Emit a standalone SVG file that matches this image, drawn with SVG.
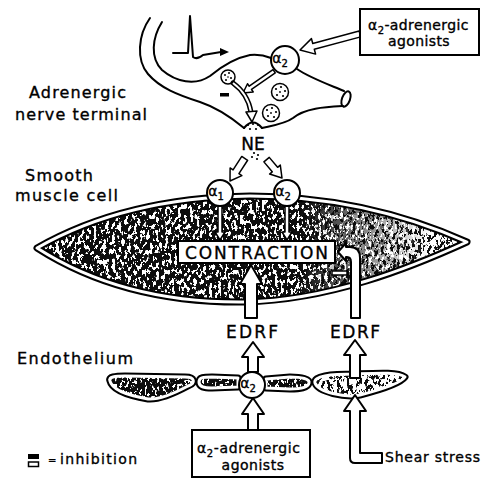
<svg xmlns="http://www.w3.org/2000/svg" width="481" height="478" viewBox="0 0 481 478">
  <style>
    .ln { fill: none; stroke: #000; stroke-width: 2; stroke-linecap: round; stroke-linejoin: round; }
    .arw { fill: #fff; stroke: #000; stroke-width: 2; stroke-linejoin: round; }
    .arw-s { fill: #fff; stroke: #000; stroke-width: 1.5; stroke-linejoin: round; }
    .box { fill: #fff; stroke: #000; stroke-width: 2; }
    .rcp { fill: #fff; stroke: #000; stroke-width: 2; }
    .memb-o { fill: none; stroke: #000; stroke-width: 7; stroke-linejoin: round; }
    .memb-i { fill: none; stroke: #fff; stroke-width: 3; stroke-linejoin: round; }
    .t { font-family: "DejaVu Sans", "Liberation Sans", sans-serif; fill: #000; stroke: #000; stroke-width: 0.35; }
    .lbl { font-size: 16px; }
    .sub { font-size: 10px; }
    .ves { fill: #fff; stroke: #000; stroke-width: 1.5; }
    .dot { fill: #000; }
  </style>
  <defs>
    <!-- speckled cytoplasm texture: dark with white flecks -->
    <filter id="fDark" x="0" y="0" width="1" height="1" color-interpolation-filters="sRGB">
      <feTurbulence type="fractalNoise" baseFrequency="0.32 0.2" numOctaves="3" seed="4" result="n"/>
      <feColorMatrix in="n" type="matrix" values="0 0 0 0 1  0 0 0 0 1  0 0 0 0 1  26 0 0 0 -14" result="w"/>
      <feFlood flood-color="#0d0d0d" result="bg"/>
      <feComposite in="w" in2="bg" operator="over"/>
    </filter>
    <filter id="fLight" x="0" y="0" width="1" height="1" color-interpolation-filters="sRGB">
      <feTurbulence type="fractalNoise" baseFrequency="0.32 0.2" numOctaves="3" seed="9" result="n"/>
      <feColorMatrix in="n" type="matrix" values="0 0 0 0 1  0 0 0 0 1  0 0 0 0 1  26 0 0 0 -11.6" result="w"/>
      <feFlood flood-color="#0d0d0d" result="bg"/>
      <feComposite in="w" in2="bg" operator="over"/>
    </filter>
    <filter id="fEndo" x="0" y="0" width="1" height="1" color-interpolation-filters="sRGB">
      <feTurbulence type="fractalNoise" baseFrequency="0.4 0.25" numOctaves="3" seed="2" result="n"/>
      <feColorMatrix in="n" type="matrix" values="0 0 0 0 1  0 0 0 0 1  0 0 0 0 1  26 0 0 0 -15" result="w"/>
      <feFlood flood-color="#0d0d0d" result="bg"/>
      <feComposite in="w" in2="bg" operator="over"/>
    </filter>
    <pattern id="grainDark" patternUnits="userSpaceOnUse" x="0" y="0" width="481" height="478">
      <rect width="481" height="478" filter="url(#fDark)"/>
    </pattern>
    <pattern id="grainLight" patternUnits="userSpaceOnUse" x="0" y="0" width="481" height="478">
      <rect width="481" height="478" filter="url(#fLight)"/>
    </pattern>
    <pattern id="grainEndo" patternUnits="userSpaceOnUse" x="0" y="0" width="481" height="478">
      <rect width="481" height="478" filter="url(#fEndo)"/>
    </pattern>
    <linearGradient id="fadeGrad" gradientUnits="userSpaceOnUse" x1="300" y1="0" x2="430" y2="0">
      <stop offset="0" stop-color="#fff" stop-opacity="0"/>
      <stop offset="1" stop-color="#fff" stop-opacity="1"/>
    </linearGradient>
    <mask id="fadeR" maskUnits="userSpaceOnUse" x="0" y="0" width="481" height="478">
      <rect width="481" height="478" fill="url(#fadeGrad)"/>
    </mask>
    <path id="lens" d="M37,248 C100,212 170,197 250,196 C330,196 400,212 467,242 C410,268 330,300 245,302 C160,303 90,282 37,248 Z"/>
  </defs>

  <!-- side labels -->
  <g id="labels">
    <text class="t lbl" x="29" y="98" textLength="97" lengthAdjust="spacing">Adrenergic</text>
    <text class="t lbl" x="15" y="120" textLength="132" lengthAdjust="spacing">nerve terminal</text>
    <text class="t lbl" x="25" y="181" textLength="68" lengthAdjust="spacing">Smooth</text>
    <text class="t lbl" x="15" y="201" textLength="103" lengthAdjust="spacing">muscle cell</text>
    <text class="t lbl" x="17" y="364" textLength="116" lengthAdjust="spacing">Endothelium</text>
  </g>

  <!-- adrenergic nerve terminal -->
  <g id="nerve-terminal">
    <path class="ln" d="M150,18 C138,35 136,60 148,74 C160,88 178,95 200,102 C218,108 232,118 244,128"/>
    <path class="ln" d="M162,22 C152,38 150,58 162,70 C176,82 195,86 210,76 C222,66 235,58 250,55 C260,54 266,56 271,58"/>
    <path class="ln" d="M297,69 C310,78 330,85 344,91"/>
    <ellipse cx="346" cy="99" rx="4" ry="8" transform="rotate(20 346 99)" class="ln"/>
    <path class="ln" d="M343,106 C325,107 305,108 293,118 C285,124 270,126 262,128"/>
    <path class="ln" d="M244,128 Q253,117 262,128"/>
    <!-- action potential -->
    <path class="ln" d="M173,53 L188,53 L190,16 L193,57 Q197,60 203,55 L221,52"/>
    <polygon points="229,52 220,48 220,56" fill="#000"/>
    <!-- vesicles -->
    <g id="vesicles">
      <circle class="ves" cx="228" cy="77" r="7"/>
      <circle class="ves" cx="280" cy="92" r="8.5"/>
      <circle class="ves" cx="271" cy="113" r="8.5"/>
      <g class="dot">
        <circle cx="225" cy="75" r="1"/><circle cx="229" cy="73" r="1"/><circle cx="231" cy="78" r="1"/><circle cx="226" cy="80" r="1"/><circle cx="228" cy="77" r="0.8"/>
        <circle cx="276" cy="89" r="1.1"/><circle cx="281" cy="87" r="1.1"/><circle cx="285" cy="91" r="1.1"/><circle cx="283" cy="96" r="1.1"/><circle cx="277" cy="95" r="1.1"/><circle cx="280" cy="92" r="0.9"/>
        <circle cx="267" cy="110" r="1.1"/><circle cx="272" cy="108" r="1.1"/><circle cx="276" cy="112" r="1.1"/><circle cx="274" cy="117" r="1.1"/><circle cx="268" cy="116" r="1.1"/><circle cx="271" cy="113" r="0.9"/>
      </g>
    </g>
    <!-- released transmitter -->
    <g class="dot">
      <circle cx="248" cy="125" r="1.1"/><circle cx="253" cy="124" r="1.1"/><circle cx="258" cy="125" r="1.1"/>
      <circle cx="250" cy="129" r="1.1"/><circle cx="256" cy="129" r="1.1"/>
      <circle cx="254" cy="153" r="1.1"/><circle cx="258" cy="155" r="1.1"/><circle cx="252" cy="157" r="1.1"/><circle cx="257" cy="159" r="1.1"/>
    </g>
    <text class="t" x="253" y="150" font-size="17" text-anchor="middle">NE</text>
    <!-- inhibition mark on release -->
    <rect x="220" y="93" width="9" height="3.5" fill="#000"/>
  </g>

  <!-- smooth muscle cell -->
  <g id="smooth-muscle-cell">
    <use href="#lens" fill="url(#grainDark)"/>
    <use href="#lens" fill="url(#grainLight)" mask="url(#fadeR)"/>
    <use href="#lens" class="memb-o"/>
    <use href="#lens" class="memb-i"/>
  </g>

  <!-- endothelial cells -->
  <g id="endothelium">
    <path id="endo1" d="M110,381 C108,377 115,376 125,376 L185,377 C195,377 196,383 188,386 C175,393 160,400 148,399 C130,396 112,390 110,381 Z" fill="url(#grainEndo)"/>
    <path id="endo2" d="M199,382 C199,377 204,377 212,377 L238,378 L238,387 L212,388 C204,388 199,387 199,382 Z" fill="url(#grainEndo)"/>
    <path id="endo3" d="M266,379 L290,377 C302,377 310,379 309,383 C308,388 300,389 290,389 L266,388 Z" fill="url(#grainEndo)"/>
    <path id="endo4" d="M315,383 C313,376 330,374 355,374 C380,373 398,372 405,377 C400,384 380,390 360,395 C345,398 318,392 315,383 Z" fill="url(#grainLight)"/>
    <use href="#endo1" class="memb-o" stroke-width="6"/>
    <use href="#endo1" class="memb-i" stroke-width="2.4"/>
    <use href="#endo2" class="memb-o" stroke-width="6"/>
    <use href="#endo2" class="memb-i" stroke-width="2.4"/>
    <use href="#endo3" class="memb-o" stroke-width="6"/>
    <use href="#endo3" class="memb-i" stroke-width="2.4"/>
    <use href="#endo4" class="memb-o" stroke-width="6"/>
    <use href="#endo4" class="memb-i" stroke-width="2.4"/>
  </g>

  <!-- connectors -->
  <g id="connectors">
    <!-- agonist to presynaptic alpha2 -->
    <polygon class="arw-s" transform="translate(300,50) rotate(-15)" points="0,0 14,-8 14,-3 62,-3 62,3 14,3 14,8"/>
    <!-- presynaptic alpha2 inhibits release -->
    <polygon class="arw-s" transform="translate(243,93) rotate(-35)" points="0,0 9,-5 9,-2 38,-2 38,2 9,2 9,5"/>
    <!-- vesicle to release site -->
    <path d="M233,83 Q248,94 251,112" fill="none" stroke="#000" stroke-width="5" stroke-linecap="round"/>
    <path d="M233,83 Q248,94 251,112" fill="none" stroke="#fff" stroke-width="2"/>
    <polygon class="arw-s" points="252,122 246,112 257,111"/>
    <!-- NE to postsynaptic receptors -->
    <polygon class="arw-s" transform="translate(230,181) rotate(-57)" points="0,0 11,-7 11,-3.5 27,-3.5 27,3.5 11,3.5 11,7"/>
    <polygon class="arw-s" transform="translate(282,178) rotate(-130)" points="0,0 11,-7 11,-3.5 24,-3.5 24,3.5 11,3.5 11,7"/>
    <!-- receptors to contraction -->
    <polygon class="arw-s" points="220,240 225,232 222,232 222,206 218,206 218,232 215,232"/>
    <polygon class="arw-s" points="287,240 292,232 289,232 289,206 285,206 285,232 282,232"/>
    <!-- EDRF up to contraction -->
    <polygon class="arw" points="251,265 262,284 257,284 257,318 245,318 245,284 240,284"/>
    <!-- EDRF inhibiting contraction -->
    <path class="arw" d="M351,318 L351,262 Q351,257 347,257 L346,257 L346,261 L338,252 L346,243 L346,247 L350,247 Q360,247 360,258 L360,318 Z"/>
    <!-- endothelial alpha2 to EDRF -->
    <polygon class="arw" points="253,342 264,357 258,357 258,372 248,372 248,357 242,357"/>
    <!-- agonist to endothelial alpha2 -->
    <polygon class="arw" points="253,398 264,414 258,414 258,430 248,430 248,414 242,414"/>
    <!-- endothelial cell to EDRF -->
    <polygon class="arw" points="355,340 366,355 360,355 360,378 350,378 350,355 344,355"/>
    <!-- shear stress -->
    <path class="arw" d="M355,395 L366,411 L360,411 L360,453 L382,453 L382,463 L355,463 Q350,463 350,458 L350,411 L344,411 Z"/>
  </g>

  <!-- receptors -->
  <g id="alpha2-pre">
    <circle class="rcp" cx="285" cy="60" r="14"/>
    <text class="t" x="280" y="63" font-size="14" text-anchor="middle">α<tspan class="sub" dy="4">2</tspan></text>
  </g>
  <g id="alpha1-post">
    <circle class="rcp" cx="220" cy="193" r="13"/>
    <text class="t" x="216" y="196" font-size="14" text-anchor="middle">α<tspan class="sub" dy="4">1</tspan></text>
  </g>
  <g id="alpha2-post">
    <circle class="rcp" cx="287" cy="193" r="13"/>
    <text class="t" x="283" y="196" font-size="14" text-anchor="middle">α<tspan class="sub" dy="4">2</tspan></text>
  </g>
  <g id="alpha2-endo">
    <circle class="rcp" cx="252" cy="385" r="13"/>
    <text class="t" x="248" y="388" font-size="14" text-anchor="middle">α<tspan class="sub" dy="4">2</tspan></text>
  </g>

  <!-- contraction -->
  <g id="contraction">
    <rect class="box" x="178" y="241" width="157" height="22"/>
    <text class="t" x="256.5" y="259" font-size="17" text-anchor="middle" textLength="143" lengthAdjust="spacing">CONTRACTION</text>
    <rect x="332" y="271" width="15" height="4" fill="#fff" stroke="#000" stroke-width="1.5"/>
  </g>

  <!-- EDRF labels -->
  <g id="edrf-left">
    <text class="t" x="252" y="338" font-size="17" text-anchor="middle" textLength="52" lengthAdjust="spacing">EDRF</text>
  </g>
  <g id="edrf-right">
    <text class="t" x="355" y="338" font-size="17" text-anchor="middle" textLength="50" lengthAdjust="spacing">EDRF</text>
  </g>

  <!-- agonist boxes -->
  <g id="agonists-top">
    <rect class="box" x="360" y="9" width="119" height="46"/>
    <text class="t" x="368" y="30" font-size="14" letter-spacing="0.4">α<tspan class="sub" dy="4">2</tspan><tspan dy="-4">-adrenergic</tspan></text>
    <text class="t" x="419" y="46" font-size="14" text-anchor="middle" letter-spacing="0.4">agonists</text>
  </g>
  <g id="agonists-bottom">
    <rect class="box" x="192" y="430" width="118" height="47"/>
    <text class="t" x="197" y="453" font-size="14" letter-spacing="0.6">α<tspan class="sub" dy="4">2</tspan><tspan dy="-4">-adrenergic</tspan></text>
    <text class="t" x="253" y="470" font-size="14" text-anchor="middle" letter-spacing="0.5">agonists</text>
  </g>

  <!-- shear stress label -->
  <g id="shear-stress">
    <text class="t" x="385" y="462" font-size="14" textLength="95" lengthAdjust="spacing">Shear stress</text>
  </g>

  <!-- legend -->
  <g id="legend">
    <rect x="28" y="454" width="11" height="5" fill="#000"/>
    <rect x="28.5" y="462" width="10" height="4.5" fill="#fff" stroke="#000" stroke-width="1.5"/>
    <text class="t" x="48" y="464" font-size="10">=</text>
    <text class="t" x="60" y="464" font-size="14" textLength="77" lengthAdjust="spacing">inhibition</text>
  </g>
</svg>
